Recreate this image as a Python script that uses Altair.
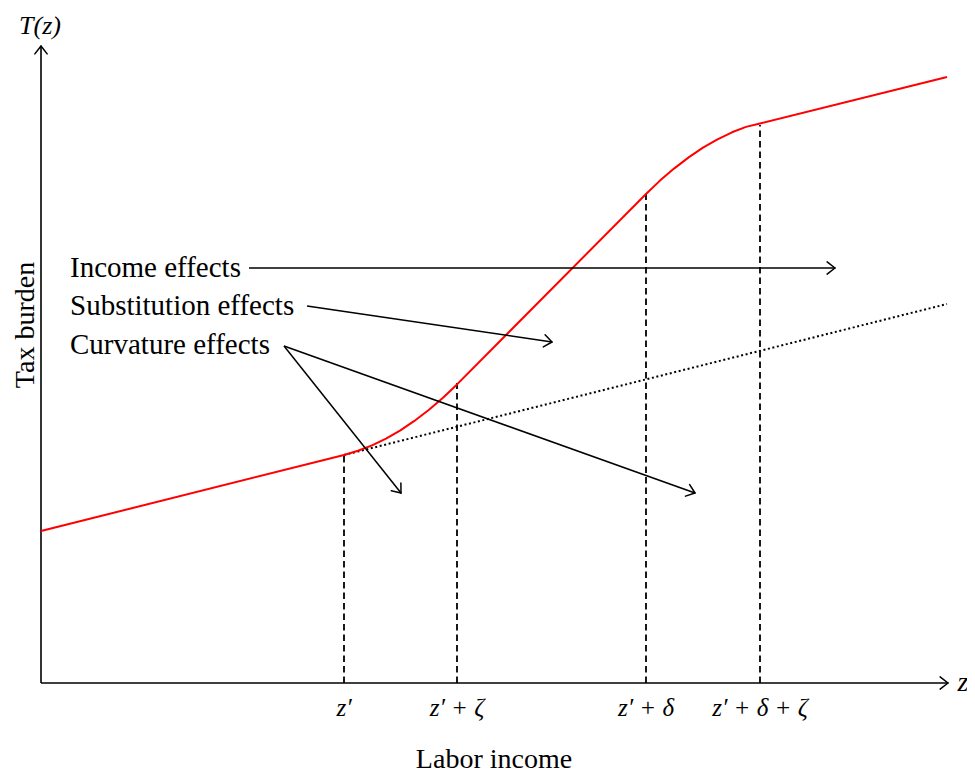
import math
import altair as alt
import pandas as pd

# ---- data (units: x to the right of origin, y above origin) ----
curve_x = [0, 303, 317, 331, 345, 359, 373, 388, 402, 416, 605, 619, 633, 648, 662, 676, 691, 705, 719, 906]
curve_y = [152, 228, 232.2, 237.6, 244.4, 252.4, 261.8, 273.2, 285.3, 298.6, 489, 502.4, 514.4, 525.9, 535.3, 543.4, 550.7, 556.1, 559.5, 606]

dotted_x = [303, 906]
dotted_y = [228, 379]

tick_x = [303, 416, 605, 719]
tick_top = [228, 300, 489, 558]
tick_labels = ["z′", "z′ + ζ", "z′ + δ", "z′ + δ + ζ"]

effect_labels = ["Income effects", "Substitution effects", "Curvature effects"]
effect_label_y = [415, 377, 338]

arrow_x1 = [208, 266, 243, 243]
arrow_y1 = [415, 377, 337, 337]
arrow_x2 = [794, 511, 360, 654]
arrow_y2 = [415, 341, 190, 190]

axis_x1 = [0, 0]
axis_y1 = [0, 0]
axis_x2 = [907, 0]
axis_y2 = [0, 637]

XS = alt.Scale(domain=[-33, 926], nice=False, zero=False)
YS = alt.Scale(domain=[-92, 675], nice=False, zero=False)


def X(f):
    return alt.X(f, type="quantitative", scale=XS, axis=None)


def Y(f):
    return alt.Y(f, type="quantitative", scale=YS, axis=None)


# arrow head segments (geometry)
def heads(x1s, y1s, x2s, y2s, L=9, ang=38):
    rows = []
    for a, b, c, d in zip(x1s, y1s, x2s, y2s):
        dx, dy = c - a, d - b
        n = math.hypot(dx, dy)
        ux, uy = dx / n, dy / n
        for s in (1, -1):
            t = math.radians(ang) * s
            rx = ux * math.cos(t) - uy * math.sin(t)
            ry = ux * math.sin(t) + uy * math.cos(t)
            rows.append({"x": c, "y": d, "x2": c - L * rx, "y2": d - L * ry})
    return pd.DataFrame(rows)


axes_df = pd.DataFrame({"x": axis_x1, "y": axis_y1, "x2": axis_x2, "y2": axis_y2})
arrows_df = pd.DataFrame({"x": arrow_x1, "y": arrow_y1, "x2": arrow_x2, "y2": arrow_y2})
heads_df = pd.concat([
    heads(axis_x1, axis_y1, axis_x2, axis_y2, L=10, ang=38),
    heads(arrow_x1, arrow_y1, arrow_x2, arrow_y2, L=10, ang=38),
])

seg = lambda df, **kw: alt.Chart(df).mark_rule(color="black", **kw).encode(
    x=X("x"), y=Y("y"), x2="x2", y2="y2")

axes = seg(axes_df, strokeWidth=1.6)
arrows = seg(arrows_df, strokeWidth=1.5)
arrow_heads = seg(heads_df, strokeWidth=1.5, strokeCap="round")

ticks_df = pd.DataFrame({"x": tick_x, "y": [0] * 4, "y2": tick_top, "label": tick_labels})
dashed = alt.Chart(ticks_df).mark_rule(color="black", strokeWidth=1.8, strokeDash=[6.5, 4]).encode(
    x=X("x"), y=Y("y"), y2="y2")

dotted = alt.Chart(pd.DataFrame({"x": dotted_x, "y": dotted_y})).mark_line(
    color="black", strokeWidth=2, strokeDash=[2, 2.6]).encode(x=X("x"), y=Y("y"))

red = alt.Chart(pd.DataFrame({"x": curve_x, "y": curve_y, "o": list(range(len(curve_x)))})).mark_line(
    color="#ff0000", strokeWidth=2, interpolate="linear", strokeJoin="round").encode(
    x=X("x"), y=Y("y"), order="o:Q")

tick_text = alt.Chart(ticks_df).mark_text(
    font="Liberation Serif", fontStyle="italic", fontSize=25, baseline="middle", align="center"
).encode(x=X("x"), y=alt.value(675 + 25), text="label:N")

eff_text = alt.Chart(pd.DataFrame({"t": effect_labels, "y": effect_label_y, "x": [29] * 3})).mark_text(
    font="Liberation Serif", fontSize=29, baseline="middle", align="left"
).encode(x=X("x"), y=Y("y"), text="t:N")

misc_df = pd.DataFrame({
    "t": ["T(z)", "z"],
    "x": [-1, 922],
    "y": [657, 0],
    "s": [26, 28],
})
misc_text = alt.Chart(misc_df).mark_text(
    font="Liberation Serif", fontStyle="italic", baseline="middle", align="center"
).encode(x=X("x"), y=Y("y"), text="t:N", size=alt.Size("s:Q", scale=None, legend=None))

xlab = alt.Chart(pd.DataFrame({"t": ["Labor income"], "x": [453], "y": [-85]})).mark_text(
    font="Liberation Serif", fontSize=28, baseline="alphabetic", align="center"
).encode(x=X("x"), y=Y("y"), text="t:N")

ylab = alt.Chart(pd.DataFrame({"t": ["Tax burden"], "x": [-15], "y": [358]})).mark_text(
    font="Liberation Serif", fontSize=28, baseline="middle", align="center", angle=270
).encode(x=X("x"), y=Y("y"), text="t:N")

chart = alt.layer(
    axes, dashed, dotted, red, arrows, arrow_heads, tick_text, eff_text, misc_text, xlab, ylab
).properties(
    width=959, height=767, padding=0, autosize=alt.AutoSizeParams(type="none"),
    background="white"
).configure_view(stroke=None)

chart.save("out.html", embed_options={"renderer": "svg", "actions": False})
